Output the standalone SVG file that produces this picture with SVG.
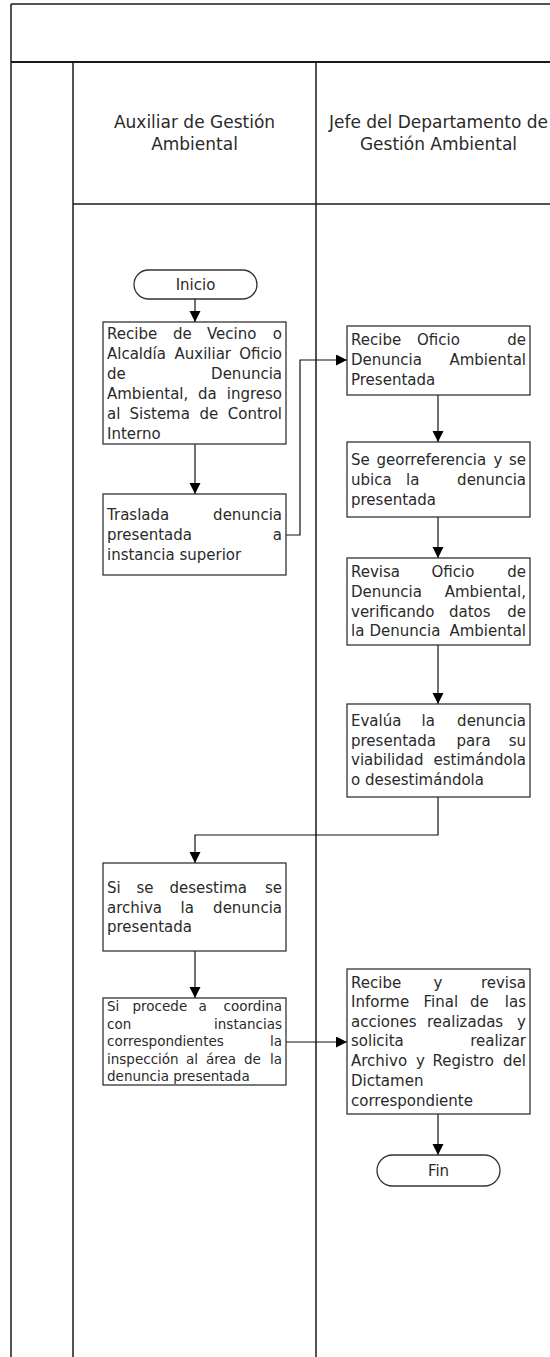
<svg xmlns="http://www.w3.org/2000/svg" width="550" height="1357" viewBox="0 0 550 1357">
<style>
.frame{stroke:#1a1a1a;stroke-width:1.5;fill:none}
.box{fill:#fff;stroke:#333;stroke-width:1.3}
.conn{fill:none;stroke:#111;stroke-width:1.2}
text{font-family:"DejaVu Sans","Liberation Sans",sans-serif;font-size:15px;fill:#2a2a2a}
.hdr{font-size:17px;text-anchor:middle}
.c{text-anchor:middle}
.e{text-anchor:end}
.sm{font-size:13.5px}
</style>
<defs>
<marker id="arr" markerUnits="userSpaceOnUse" markerWidth="12" markerHeight="12" refX="11" refY="5.5" orient="auto">
<path d="M0,0 L11,5.5 L0,11 Z" fill="#000"/>
</marker>
</defs>
<rect width="550" height="1357" fill="#fff"/>
<g id="frame">
<line class="frame" x1="11" y1="4" x2="550" y2="4"/>
<line class="frame" x1="11" y1="62" x2="550" y2="62" style="stroke-width:2.2"/>
<line class="frame" x1="11" y1="4" x2="11" y2="1357"/>
<line class="frame" x1="73" y1="62" x2="73" y2="1357"/>
<line class="frame" x1="316" y1="62" x2="316" y2="1357"/>
<line class="frame" x1="73" y1="204" x2="550" y2="204"/>
</g>
<g id="lane-auxiliar">
<text class="hdr" x="194.5" y="128">Auxiliar de Gestión</text>
<text class="hdr" x="194.5" y="150">Ambiental</text>
</g>
<g id="lane-jefe">
<text class="hdr" x="438.5" y="128">Jefe del Departamento de</text>
<text class="hdr" x="438.5" y="150">Gestión Ambiental</text>
</g>
<g id="connectors">
<path class="conn" d="M195,299 V322" marker-end="url(#arr)"/>
<path class="conn" d="M195,444 V494" marker-end="url(#arr)"/>
<path class="conn" d="M286,535 H300 V360 H347" marker-end="url(#arr)"/>
<path class="conn" d="M438,395 V442" marker-end="url(#arr)"/>
<path class="conn" d="M438,517 V558" marker-end="url(#arr)"/>
<path class="conn" d="M438,645 V704" marker-end="url(#arr)"/>
<path class="conn" d="M438,797 V835 H195 V863" marker-end="url(#arr)"/>
<path class="conn" d="M195,951 V998" marker-end="url(#arr)"/>
<path class="conn" d="M286,1042 H347" marker-end="url(#arr)"/>
<path class="conn" d="M438,1114 V1155" marker-end="url(#arr)"/>
</g>
<g id="inicio">
<rect class="box" x="134" y="270" width="123" height="29" rx="14.5"/>
<text class="c" x="195.5" y="290">Inicio</text>
</g>
<g id="n1">
<rect class="box" x="103" y="322" width="183" height="122"/>
<text x="107" y="339">Recibe</text><text x="173" y="339">de</text><text x="207" y="339">Vecino</text><text class="e" x="282" y="339">o</text>
<text x="107" y="359">Alcaldía</text><text x="174.5" y="359">Auxiliar</text><text class="e" x="282" y="359">Oficio</text>
<text x="107" y="379">de</text><text class="e" x="282" y="379">Denuncia</text>
<text x="107" y="399">Ambiental,</text><text x="198" y="399">da</text><text class="e" x="282" y="399">ingreso</text>
<text x="107" y="419">al</text><text x="129.5" y="419">Sistema</text><text x="199.5" y="419">de</text><text class="e" x="282" y="419">Control</text>
<text x="107" y="438.5">Interno</text>
</g>
<g id="n2">
<rect class="box" x="103" y="494" width="183" height="81"/>
<text x="107" y="520">Traslada</text><text class="e" x="282" y="520">denuncia</text>
<text x="107" y="540">presentada</text><text class="e" x="282" y="540">a</text>
<text x="107" y="560">instancia superior</text>
</g>
<g id="n3">
<rect class="box" x="347" y="326" width="183" height="69"/>
<text x="351" y="345">Recibe</text><text x="417" y="345">Oficio</text><text class="e" x="526" y="345">de</text>
<text x="351" y="365">Denuncia</text><text class="e" x="526" y="365">Ambiental</text>
<text x="351" y="385">Presentada</text>
</g>
<g id="n4">
<rect class="box" x="347" y="442" width="183" height="75"/>
<text x="351" y="465">Se</text><text x="376.5" y="465">georreferencia</text><text x="493.5" y="465">y</text><text class="e" x="526" y="465">se</text>
<text x="351" y="485">ubica</text><text x="406" y="485">la</text><text class="e" x="526" y="485">denuncia</text>
<text x="351" y="504.5">presentada</text>
</g>
<g id="n5">
<rect class="box" x="347" y="558" width="183" height="87"/>
<text x="351" y="577">Revisa</text><text x="431.5" y="577">Oficio</text><text class="e" x="526" y="577">de</text>
<text x="351" y="596.5">Denuncia</text><text class="e" x="526" y="596.5">Ambiental,</text>
<text x="351" y="616.5">verificando</text><text x="449" y="616.5">datos</text><text class="e" x="526" y="616.5">de</text>
<text x="351" y="636">la</text><text x="369.5" y="636">Denuncia</text><text class="e" x="526" y="636">Ambiental</text>
</g>
<g id="n6">
<rect class="box" x="347" y="704" width="183" height="93"/>
<text x="351" y="726">Evalúa</text><text x="421.5" y="726">la</text><text class="e" x="526" y="726">denuncia</text>
<text x="351" y="745.5">presentada</text><text x="456.5" y="745.5">para</text><text class="e" x="526" y="745.5">su</text>
<text x="351" y="765">viabilidad</text><text class="e" x="526" y="765">estimándola</text>
<text x="351" y="784.5">o desestimándola</text>
</g>
<g id="n7">
<rect class="box" x="103" y="863" width="183" height="88"/>
<text x="107" y="893">Si</text><text x="136.5" y="893">se</text><text x="169.5" y="893">desestima</text><text class="e" x="282" y="893">se</text>
<text x="107" y="912.5">archiva</text><text x="180.5" y="912.5">la</text><text class="e" x="282" y="912.5">denuncia</text>
<text x="107" y="931.5">presentada</text>
</g>
<g id="n8">
<rect class="box" x="103" y="998" width="183" height="87"/>
<text class="sm" x="107" y="1011">Si</text><text class="sm" x="132.5" y="1011">procede</text><text class="sm" x="198.5" y="1011">a</text><text class="sm e" x="282" y="1011">coordina</text>
<text class="sm" x="107" y="1028.5">con</text><text class="sm e" x="282" y="1028.5">instancias</text>
<text class="sm" x="107" y="1046">correspondientes</text><text class="sm e" x="282" y="1046">la</text>
<text class="sm" x="107" y="1063.5">inspección</text><text class="sm" x="186" y="1063.5">al</text><text class="sm" x="206" y="1063.5">área</text><text class="sm" x="244" y="1063.5">de</text><text class="sm e" x="282" y="1063.5">la</text>
<text class="sm" x="107" y="1080.5">denuncia presentada</text>
</g>
<g id="n9">
<rect class="box" x="347" y="969" width="183" height="145"/>
<text x="351" y="987.5">Recibe</text><text x="433.5" y="987.5">y</text><text class="e" x="526" y="987.5">revisa</text>
<text x="351" y="1007">Informe</text><text x="423.5" y="1007">Final</text><text x="470" y="1007">de</text><text class="e" x="526" y="1007">las</text>
<text x="351" y="1026.5">acciones</text><text x="427" y="1026.5">realizadas</text><text class="e" x="526" y="1026.5">y</text>
<text x="351" y="1046">solicita</text><text class="e" x="526" y="1046">realizar</text>
<text x="351" y="1066">Archivo</text><text x="416" y="1066">y</text><text x="432.5" y="1066">Registro</text><text class="e" x="526" y="1066">del</text>
<text x="351" y="1086">Dictamen</text>
<text x="351" y="1105.5">correspondiente</text>
</g>
<g id="fin">
<rect class="box" x="377" y="1155" width="123" height="31" rx="15.5"/>
<text class="c" x="438.5" y="1176">Fin</text>
</g>
</svg>
